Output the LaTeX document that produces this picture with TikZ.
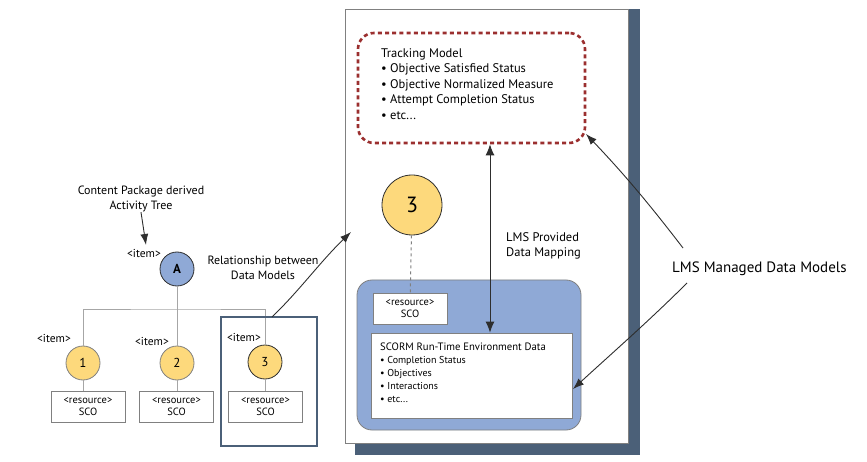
\documentclass[tikz,border=0pt]{standalone}
\usepackage{fontspec}
\setmainfont{PT Sans}
\usetikzlibrary{arrows.meta,calc}
\definecolor{ylw}{HTML}{FDD97C}
\definecolor{blu}{HTML}{8FA9D6}
\definecolor{slate}{HTML}{4B6078}
\definecolor{dred}{HTML}{9B2F2F}
\definecolor{dk}{HTML}{2E2E2E}
\tikzset{
  yc/.style={circle,draw=#1,fill=ylw,line width=0.8pt,minimum size=34pt,inner sep=0pt,font=\fontsize{13}{13}\selectfont},
  resbox/.style={draw=gray,fill=white,line width=0.8pt,minimum width=74pt,minimum height=31pt,inner sep=0pt,align=center,font=\fontsize{10.5}{12.5}\selectfont},
  lbl/.style={font=\fontsize{11.5}{12}\selectfont,inner sep=0pt},
  txt/.style={font=\fontsize{12}{15}\selectfont,align=center,inner sep=0pt},
  arr/.style={-{Latex[length=11pt,width=8pt]},line width=0.9pt,draw=dk},
  treeln/.style={draw=gray!70,line width=1pt},
}
\begin{document}
\begin{tikzpicture}[x=1pt,y=-1pt]
\useasboundingbox (0,0) rectangle (867,462);
% panel with shadow
\node[fill=slate,minimum width=285pt,minimum height=446pt,inner sep=0pt,anchor=north west] (shadow) at (355,9) {};
\node[fill=white,draw=gray,line width=0.8pt,minimum width=283pt,minimum height=434pt,inner sep=0pt,anchor=north west] (panel) at (345,9) {};
% tracking model
\node[draw=dred,line width=2.6pt,dash pattern=on 4pt off 3.2pt,rounded corners=16pt,minimum width=227pt,minimum height=110pt,inner sep=0pt] (track) at (471.5,88) {};
\node[anchor=north west,align=left,inner sep=0pt,font=\fontsize{12.5}{15.5}\selectfont] (tracktxt) at (381,48) {Tracking Model\\ \textbullet\ Objective Satisfied Status\\ \textbullet\ Objective Normalized Measure\\ \textbullet\ Attempt Completion Status\\ \textbullet\ etc...};
% big circle 3
\node[yc=dk,minimum size=60pt,font=\fontsize{22}{22}\selectfont] (big3) at (412,205) {3};
% blue box
\node[fill=blu,draw=gray,line width=0.8pt,rounded corners=15pt,minimum width=224pt,minimum height=150pt,inner sep=0pt] (bluebox) at (469,355) {};
\node[resbox] (res4) at (410,308.5) {<resource>\\SCO};
\node[draw=gray,fill=white,line width=0.8pt,minimum width=201pt,minimum height=85pt,inner sep=0pt] (scorm) at (471.5,375.5) {};
\node[anchor=north west,align=left,inner sep=0pt,font=\fontsize{10}{13}\selectfont] (scormtxt) at (380,343) {\fontsize{10.7}{13}\selectfont SCORM Run-Time Environment Data\\ \textbullet\ Completion Status\\ \textbullet\ Objectives\\ \textbullet\ Interactions\\ \textbullet\ etc...};
\draw[gray,dashed,line width=1pt] (big3) -- (res4);
% mapping arrow
\coordinate (mx) at (490,0);
\draw[{Latex[length=11pt,width=9pt]}-{Latex[length=11pt,width=9pt]},line width=1pt,draw=dk] (track.south -| mx) -- (scorm.north -| mx);
\node[txt,font=\fontsize{12.5}{15}\selectfont,align=left,anchor=north west] (maptxt) at (506,232) {LMS Provided\\Data Mapping};
% LMS managed
\node[anchor=west,inner sep=0pt,font=\fontsize{15}{15}\selectfont] (lms) at (672,269) {LMS Managed Data Models};
\coordinate (lmsA) at (683,248);
\coordinate (lmsB) at (687,283);
\coordinate (tipA) at (586,134);
\coordinate (tipB) at (573,389);
\draw[arr] (lmsA) .. controls (650,205) and (625,175) .. (tipA);
\draw[arr] (lmsB) .. controls (650,320) and (610,355) .. (tipB);
% tree
\node[txt] (cpt) at (141,199) {Content Package derived\\Activity Tree};
\node[circle,draw=dk,fill=blu,line width=0.8pt,minimum size=34pt,inner sep=0pt,font=\bfseries\fontsize{13}{13}\selectfont] (A) at (177,269) {A};
\node[lbl] (iA) at (144,253) {<item>};
\coordinate (atip) at (146,245);
\draw[arr] (cpt.south) -- (atip);
\node[yc=gray] (c1) at (83,363) {1};
\node[yc=gray] (c2) at (177,363) {2};
\node[yc=dk] (c3) at (265,362) {3};
\node[lbl] (i1) at (54,338) {<item>};
\node[lbl] (i2) at (152,341) {<item>};
\node[lbl] (i3) at (244,337) {<item>};
\node[resbox] (r1) at (88,406.5) {<resource>\\SCO};
\node[resbox] (r2) at (176.5,406.5) {<resource>\\SCO};
\node[resbox] (r3) at (265.5,406.5) {<resource>\\SCO};
\coordinate (hl) at (177,309);
\draw[treeln] (A) -- (c2);
\draw[treeln] (c1.north) |- (hl) -| (c3.north);
\draw[treeln] (c1) -- (c1 |- r1.north);
\draw[treeln] (c2) -- (c2 |- r2.north);
\draw[treeln] (c3) -- (c3 |- r3.north);
\node[draw=slate,line width=2.6pt,minimum width=96pt,minimum height=129pt,inner sep=0pt] (frame) at (269,381.5) {};
\node[txt] (rel) at (263,267.5) {Relationship between\\Data Models};
\coordinate (ftop) at (272,317);
\coordinate (ptip) at (351,232);
\draw[arr] (ftop) .. controls (300,290) and (320,262) .. (ptip);
\end{tikzpicture}
\end{document}
